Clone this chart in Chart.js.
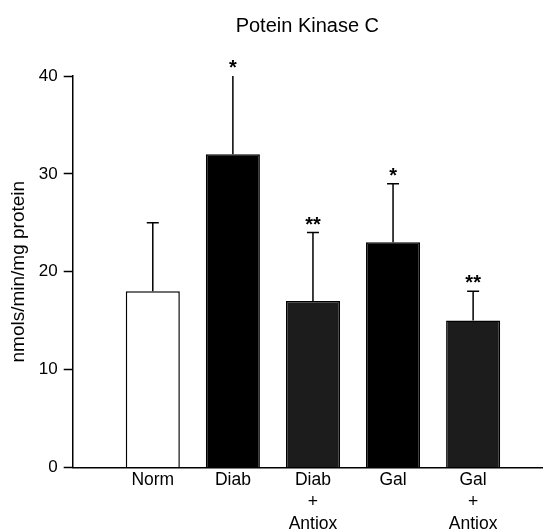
<!DOCTYPE html>
<html>
<head>
<meta charset="utf-8">
<script src="https://cdn.jsdelivr.net/npm/chart.js@4.4.1/dist/chart.umd.min.js"></script>
<style>
  html, body { margin: 0; padding: 0; background: #fff; overflow: hidden; }
  #wrap { width: 550px; height: 537px; }
</style>
</head>
<body>
<div id="wrap"><canvas id="pkc"></canvas></div>
<script>
// Potein Kinase C, nmols/min/mg protein
const groups = [['Norm'], ['Diab'], ['Diab', '+', 'Antiox'], ['Gal'], ['Gal', '+', 'Antiox']];
const means = [18, 32, 17, 23, 15];
const errors = [7, 8, 7, 6, 3];
const marks = ['', '*', '**', '*', '**'];
const yTicks = [0, 10, 20, 30, 40];

const barFill = ['#ffffff', '#000000', '#1c1c1c', '#000000', '#1c1c1c'];
const fam = '"Liberation Sans", Arial, Helvetica, sans-serif';
Chart.defaults.font.family = fam;
Chart.defaults.color = '#000';

// error bars + significance stars
const errorBars = {
    id: 'errorBars',
    afterDatasetsDraw(chart) {
        const ctx = chart.ctx;
        const y = chart.scales.y;
        const meta = chart.getDatasetMeta(0);
        ctx.save();
        ctx.strokeStyle = '#000';
        ctx.fillStyle = '#000';
        ctx.lineWidth = 1.5;
        ctx.font = 'bold 20px ' + fam;
        ctx.textAlign = 'center';
        ctx.textBaseline = 'alphabetic';
        meta.data.forEach((bar, i) => {
            const top = means[i] + errors[i];
            const yTop = y.getPixelForValue(top);
            ctx.beginPath();
            ctx.moveTo(bar.x, bar.y);
            ctx.lineTo(bar.x, yTop);
            if (top < y.max) {
                ctx.moveTo(bar.x - 6, yTop);
                ctx.lineTo(bar.x + 6, yTop);
            }
            ctx.stroke();
            if (marks[i]) ctx.fillText(marks[i], bar.x, yTop - 2);
        });
        ctx.restore();
    }
};

new Chart(document.getElementById('pkc'), {
    type: 'bar',
    data: {
        datasets: [{
            data: means.map((v, i) => ({ x: i + 1, y: v })),
            backgroundColor: barFill,
            borderColor: '#000',
            borderWidth: 1.5,
            barPercentage: 0.675,
            categoryPercentage: 1
        }]
    },
    options: {
        responsive: true,
        maintainAspectRatio: false,
        animation: false,
        layout: { padding: { right: 8 } },
        plugins: {
            legend: { display: false },
            tooltip: { enabled: false },
            title: {
                display: true,
                text: 'Potein Kinase C',
                fullSize: false,
                font: { size: 20, weight: 'normal' },
                padding: { top: 14, bottom: 38 }
            }
        },
        scales: {
            x: {
                type: 'linear',
                min: 0,
                max: 5.86,
                offset: false,
                afterBuildTicks: s => { s.ticks = groups.map((g, i) => ({ value: i + 1 })); },
                ticks: {
                    callback: v => groups[v - 1] || '',
                    font: { size: 17.5, lineHeight: 1.25 },
                    maxRotation: 0,
                    autoSkip: false,
                    padding: 2
                },
                grid: { display: false, drawTicks: false },
                border: { color: '#000', width: 1.5 }
            },
            y: {
                min: 0,
                max: 40,
                afterBuildTicks: s => { s.ticks = yTicks.map(v => ({ value: v })); },
                ticks: { font: { size: 17 }, padding: 6 },
                grid: { drawOnChartArea: false, tickLength: 9, color: '#000', tickWidth: 1.5 },
                border: { color: '#000', width: 1.5 },
                title: {
                    display: true,
                    text: 'nmols/min/mg protein',
                    font: { size: 19 },
                    padding: { top: 7, bottom: 3 }
                }
            }
        }
    },
    plugins: [errorBars]
});
</script>
</body>
</html>
